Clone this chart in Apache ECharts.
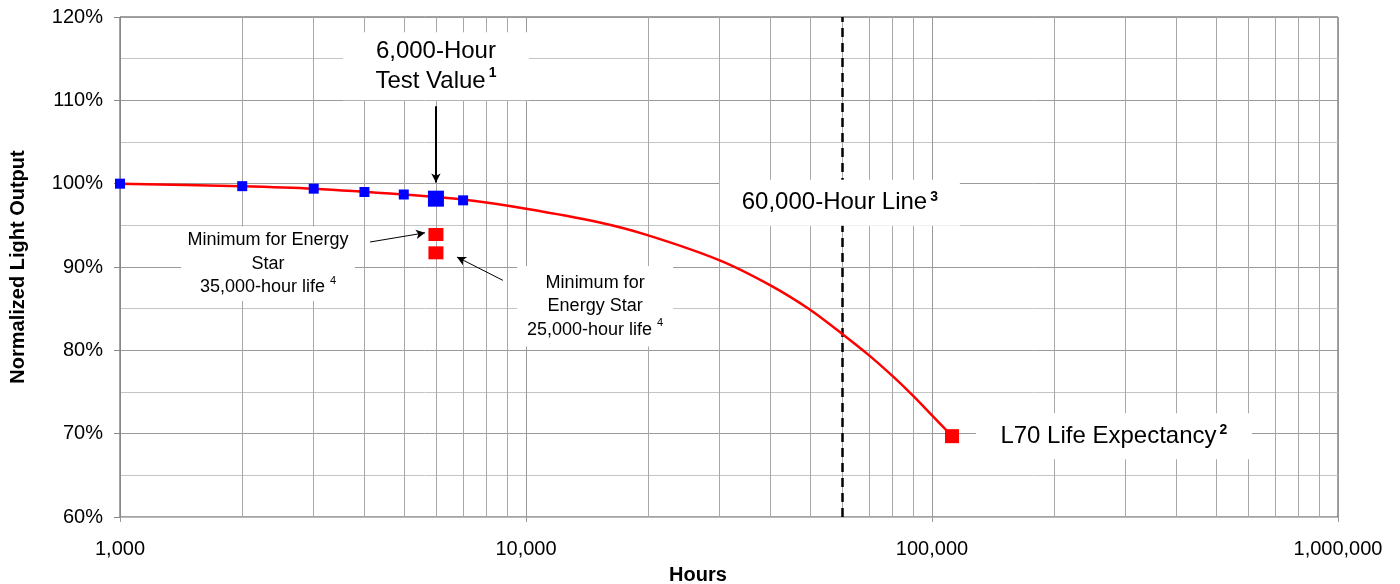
<!DOCTYPE html>
<html>
<head>
<meta charset="utf-8">
<script src="https://cdn.jsdelivr.net/npm/echarts@6/dist/echarts.min.js"></script>
<style>
  html, body { margin: 0; padding: 0; background: #fff; }
  #chart { width: 1400px; height: 584px; }
</style>
</head>
<body>
<div id="chart"></div>
<script>
// fitted lumen maintenance curve
const curveHours = [1000, 2000, 3000, 5000, 7000, 10000, 15000, 20000, 30000, 40000, 50000, 60000, 70000, 80000, 90000, 100000, 112000]
const curveOutput = [100, 99.7, 99.4, 98.7, 98.1, 97.0, 95.4, 93.8, 90.8, 87.8, 84.9, 82.0, 79.4, 76.9, 74.5, 72.2, 69.7]

// measured points
const measuredHours = [1000, 2000, 3000, 4000, 5000, 7000]
const measuredOutput = [100, 99.7, 99.4, 99.0, 98.7, 98.0]

const testHours = [6000]
const testOutput = [98.2]

// Energy Star minimums at 6,000 h (35k life, 25k life)
const energyStarHours = [6000, 6000]
const energyStarOutput = [93.9, 91.7]

const l70Hours = [112000]
const l70Output = [69.7]

const lineHours = 60000

const yTicks = [60, 70, 80, 90, 100, 110, 120]

const FONT = '"Liberation Sans", Arial, Helvetica, sans-serif'

// minor vertical grid lines 2..9 per decade
const minorHours = []
;[1000, 10000, 100000].forEach(d => {
  for (let k = 2; k <= 9; k++) minorHours.push(d * k)
})

const pair = (xs, ys) => xs.map((x, i) => [x, ys[i]])

const chart = echarts.init(document.getElementById('chart'))

const sup = { fontSize: 14, fontWeight: 'bold', fontFamily: FONT, color: '#000', verticalAlign: 'top', padding: [0, 0, 0, 3] }
const supSmall = { fontSize: 11, fontFamily: FONT, color: '#000', verticalAlign: 'top' }

const bigText = { fontSize: 24, lineHeight: 30, fontFamily: FONT, color: '#000' }
const smallText = { fontSize: 18, lineHeight: 23.5, fontFamily: FONT, color: '#000' }

chart.setOption({
  animation: false,
  grid: {
    left: 120,
    right: 62,
    top: 17,
    bottom: 67,
    outerBoundsMode: 'none',
    containLabel: false,
    show: true,
    borderColor: '#444',
    borderWidth: 1,
  },
  xAxis: {
    type: 'log',
    logBase: 10,
    min: 1000,
    max: 1000000,
    name: 'Hours',
    nameLocation: 'middle',
    nameGap: 48,
    nameTextStyle: { fontFamily: FONT, fontWeight: 'bold', fontSize: 20, color: '#000', padding: [0, 62, 0, 0] },
    axisLine: { show: true, lineStyle: { color: '#bbb' } },
    axisTick: { show: true, length: 5, lineStyle: { color: '#999' } },
    axisLabel: {
      fontFamily: FONT,
      fontSize: 20,
      color: '#000',
      margin: 22,
      formatter: v => Number(v).toLocaleString('en-US'),
    },
    splitLine: { show: true, lineStyle: { color: '#999', width: 1 } },
  },
  yAxis: {
    type: 'value',
    min: yTicks[0],
    max: yTicks[yTicks.length - 1],
    interval: 10,
    name: 'Normalized Light Output',
    nameLocation: 'middle',
    nameGap: 92,
    nameTextStyle: { fontFamily: FONT, fontWeight: 'bold', fontSize: 20, color: '#000' },
    axisLine: { show: true, lineStyle: { color: '#888' } },
    axisTick: { show: true, length: 6, lineStyle: { color: '#888' } },
    axisLabel: { fontFamily: FONT, fontSize: 20, color: '#000', margin: 17, formatter: '{value}%' },
    splitLine: { show: true, lineStyle: { color: '#9a9a9a', width: 1 } },
    minorTick: { show: false, splitNumber: 2 },
    minorSplitLine: { show: true, lineStyle: { color: '#c4c4c4', width: 1 } },
  },
  series: [
    {
      name: 'grid',
      type: 'line',
      data: [],
      silent: true,
      z: 0,
      markLine: {
        silent: true,
        z: 0,
        symbol: ['none', 'none'],
        label: { show: false },
        lineStyle: { color: '#a8a8a8', type: 'solid', width: 1 },
        data: minorHours.map(v => ({ xAxis: v })),
      },
    },
    {
      name: '60,000-hour line',
      type: 'line',
      data: [],
      silent: true,
      z: 1,
      markLine: {
        silent: true,
        z: 1,
        symbol: ['none', 'none'],
        label: { show: false },
        lineStyle: { color: '#000', type: [9, 6], width: 2.5 },
        data: [{ xAxis: lineHours }],
      },
    },
    {
      name: 'curve',
      type: 'line',
      data: pair(curveHours, curveOutput),
      smooth: 0.25,
      showSymbol: false,
      lineStyle: { color: '#ff0000', width: 2.5 },
      z: 3,
    },
    {
      name: 'measured',
      type: 'scatter',
      data: pair(measuredHours, measuredOutput),
      symbol: 'rect',
      symbolSize: 10,
      itemStyle: { color: '#0000ff', opacity: 1 },
      z: 4,
    },
    {
      name: 'test value',
      type: 'scatter',
      data: pair(testHours, testOutput),
      symbol: 'rect',
      symbolSize: 16,
      itemStyle: { color: '#0000ff', opacity: 1 },
      z: 4,
    },
    {
      name: 'energy star',
      type: 'scatter',
      data: pair(energyStarHours, energyStarOutput),
      symbol: 'rect',
      symbolSize: [15, 13],
      itemStyle: { color: '#ff0000', opacity: 1 },
      z: 4,
    },
    {
      name: 'L70',
      type: 'scatter',
      data: pair(l70Hours, l70Output),
      symbol: 'rect',
      symbolSize: 14,
      itemStyle: { color: '#ff0000', opacity: 1 },
      z: 4,
    },
    {
      // callout boxes and arrows
      name: 'notes',
      type: 'line',
      data: [],
      silent: true,
      z: 2,
      markPoint: {
        silent: true,
        z: 2,
        symbol: 'rect',
        symbolSize: 1,
        itemStyle: { color: 'rgba(0,0,0,0)' },
        label: { show: true, position: 'inside', align: 'center', backgroundColor: '#fff', color: '#000', fontFamily: FONT },
        data: [
          {
            coord: [6000, 114.1],
            label: {
              formatter: '{t|6,000-Hour}\n{t|Test Value}{s|1}',
              width: 136,
              padding: [4, 25, 4, 25],
              rich: { t: bigText, s: sup },
            },
          },
          {
            coord: [59300, 97.7],
            label: {
              formatter: '{t|60,000-Hour Line}{s|3}',
              width: 222,
              padding: [10, 9, 10, 9],
              rich: { t: { ...bigText, lineHeight: 26 }, s: sup },
            },
          },
          {
            coord: [280500, 69.7],
            label: {
              formatter: '{t|L70 Life Expectancy}{s|2}',
              width: 256,
              padding: [10, 10, 10, 10],
              rich: { t: { ...bigText, lineHeight: 26 }, s: sup },
            },
          },
          {
            coord: [2315, 90.4],
            label: {
              formatter: '{t|Minimum for Energy}\n{t|Star}\n{t|35,000-hour life }{s|4}',
              width: 170,
              padding: [2, 2, 2, 2],
              rich: { t: smallText, s: supSmall },
            },
          },
          {
            coord: [14800, 85.3],
            label: {
              formatter: '{t|Minimum for}\n{t|Energy Star}\n{t|25,000-hour life }{s|4}',
              width: 148,
              padding: [5, 4, 5, 4],
              rich: { t: smallText, s: supSmall },
            },
          },
        ],
      },
      markLine: {
        silent: true,
        z: 5,
        label: { show: false },
        symbol: ['none', 'arrow'],
        symbolSize: [7, 9],
        lineStyle: { color: '#000', type: 'solid', width: 1 },
        data: [
          [{ coord: [6000, 109.3], lineStyle: { width: 2 } }, { coord: [6000, 100.15] }],
          [{ coord: [4130, 93.0] }, { coord: [5640, 94.1] }],
          [{ coord: [8770, 88.4] }, { coord: [6760, 91.2] }],
        ],
      },
    },
  ],
})
</script>
</body>
</html>
